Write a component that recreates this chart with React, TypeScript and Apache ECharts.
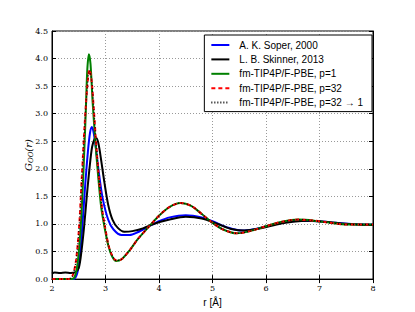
import React, { useEffect, useRef } from "react";
import * as echarts from "echarts";

const seriesNames = [
  "A. K. Soper, 2000",
  "L. B. Skinner, 2013",
  "fm-TIP4P/F-PBE, p=1",
  "fm-TIP4P/F-PBE, p=32",
  "fm-TIP4P/F-PBE, p=32 \u2192 1",
];

const soperR = [2.0, 2.4, 2.47, 2.52, 2.57, 2.62, 2.67, 2.71, 2.745, 2.78, 2.83, 2.88, 2.95, 3.05, 3.15, 3.3, 3.45, 3.6, 3.8, 4.0, 4.2, 4.5, 4.8, 5.0, 5.3, 5.55, 5.8, 6.1, 6.4, 6.7, 7.0, 7.3, 7.6, 8.0];
const soperG = [0, 0, 0.1, 0.4, 1.0, 1.7, 2.3, 2.65, 2.76, 2.65, 2.3, 1.9, 1.45, 1.08, 0.9, 0.8, 0.8, 0.85, 0.95, 1.05, 1.12, 1.16, 1.12, 1.05, 0.93, 0.88, 0.91, 0.98, 1.04, 1.06, 1.05, 1.02, 1.0, 0.99];

const skinnerR = [2.0, 2.05, 2.15, 2.25, 2.35, 2.43, 2.5, 2.55, 2.6, 2.65, 2.7, 2.75, 2.8, 2.83, 2.87, 2.92, 2.98, 3.05, 3.13, 3.23, 3.35, 3.5, 3.7, 3.9, 4.2, 4.5, 4.8, 5.1, 5.35, 5.6, 5.9, 6.2, 6.5, 6.8, 7.1, 7.4, 7.7, 8.0];
const skinnerG = [0.1, 0.12, 0.11, 0.12, 0.11, 0.12, 0.2, 0.5, 0.95, 1.5, 2.0, 2.4, 2.55, 2.56, 2.45, 2.15, 1.75, 1.35, 1.08, 0.93, 0.86, 0.87, 0.92, 1.0, 1.08, 1.13, 1.1, 1.0, 0.91, 0.88, 0.92, 0.99, 1.04, 1.06, 1.04, 1.01, 0.99, 0.98];

const p1R = [2.0, 2.35, 2.42, 2.48, 2.54, 2.59, 2.63, 2.66, 2.69, 2.72, 2.76, 2.81, 2.86, 2.92, 2.98, 3.05, 3.12, 3.2, 3.3, 3.45, 3.6, 3.8, 4.0, 4.2, 4.4, 4.6, 4.8, 5.0, 5.2, 5.45, 5.7, 6.0, 6.3, 6.6, 6.9, 7.2, 7.5, 8.0];
const p1G = [0, 0, 0.03, 0.3, 1.0, 2.0, 3.0, 3.8, 4.08, 3.9, 3.2, 2.5, 1.9, 1.3, 0.95, 0.62, 0.42, 0.33, 0.36, 0.52, 0.72, 0.94, 1.15, 1.31, 1.38, 1.33, 1.18, 1.02, 0.9, 0.83, 0.87, 0.96, 1.04, 1.08, 1.06, 1.02, 0.99, 0.99];

const p32R = [2.0, 2.3, 2.38, 2.45, 2.51, 2.56, 2.61, 2.66, 2.7, 2.74, 2.78, 2.83, 2.88, 2.94, 3.0, 3.06, 3.13, 3.2, 3.3, 3.45, 3.6, 3.8, 4.0, 4.2, 4.4, 4.6, 4.8, 5.0, 5.2, 5.45, 5.7, 6.0, 6.3, 6.6, 6.9, 7.2, 7.5, 8.0];
const p32G = [0, 0, 0.05, 0.35, 1.0, 1.9, 2.8, 3.5, 3.8, 3.6, 3.1, 2.4, 1.8, 1.25, 0.9, 0.6, 0.42, 0.34, 0.36, 0.52, 0.72, 0.94, 1.15, 1.31, 1.38, 1.33, 1.18, 1.02, 0.9, 0.83, 0.87, 0.96, 1.04, 1.08, 1.06, 1.02, 0.99, 0.99];

const p32to1R = [2.0, 2.3, 2.38, 2.45, 2.51, 2.56, 2.61, 2.66, 2.7, 2.74, 2.78, 2.83, 2.88, 2.94, 3.0, 3.06, 3.13, 3.2, 3.3, 3.45, 3.6, 3.8, 4.0, 4.2, 4.4, 4.6, 4.8, 5.0, 5.2, 5.45, 5.7, 6.0, 6.3, 6.6, 6.9, 7.2, 7.5, 8.0];
const p32to1G = [0, 0, 0.05, 0.34, 0.98, 1.88, 2.78, 3.48, 3.78, 3.6, 3.1, 2.4, 1.8, 1.25, 0.9, 0.6, 0.42, 0.34, 0.36, 0.52, 0.72, 0.94, 1.15, 1.31, 1.38, 1.33, 1.18, 1.02, 0.9, 0.83, 0.87, 0.96, 1.04, 1.08, 1.06, 1.02, 0.99, 0.99];

const zip = (r: number[], g: number[]) => r.map((v, i) => [v, g[i]]);

export default function App() {
  const ref = useRef<HTMLDivElement>(null);
  useEffect(() => {
    if (!ref.current) return;
    document.body.style.margin = "0";
    const chart = echarts.init(ref.current, null, { renderer: "svg" });
    const tickFont = { fontFamily: "DejaVu Serif", fontSize: 8, color: "#000" };
    const grid = { lineStyle: { color: "#999", type: [1, 2], width: 1 } };
    const mk = (name: string, data: number[][], color: string, width: number, type: any, z: number) => ({
      name,
      type: "line",
      data,
      smooth: 0.3,
      symbol: "none",
      z,
      lineStyle: { color, width, type },
      itemStyle: { color },
    });
    chart.setOption({
      animation: false,
      backgroundColor: "#fff",
      grid: { left: 52, right: 42, top: 31, bottom: 31, show: true, borderColor: "#000", borderWidth: 1 },
      legend: {
        orient: "vertical",
        right: 43,
        top: 35,
        backgroundColor: "#fff",
        borderColor: "#000",
        borderWidth: 1,
        padding: [5, 9, 4, 6],
        itemWidth: 18,
        itemHeight: 10,
        itemGap: 4.4,
        itemStyle: { opacity: 0 },
        lineStyle: { width: 2 },
        textStyle: { fontFamily: "Liberation Sans", fontSize: 10, lineHeight: 10, color: "#000", padding: [0, 0, 0, 5] },
        data: seriesNames,
      },
      xAxis: [
        {
          type: "value",
          min: 2,
          max: 8,
          interval: 1,
          name: "r [\u00c5]",
          nameLocation: "middle",
          nameGap: 17,
          nameTextStyle: { fontFamily: "Liberation Sans", fontSize: 10, color: "#000" },
          axisLine: { show: true, lineStyle: { color: "#000" } },
          axisTick: { inside: true, length: 4, lineStyle: { color: "#000" } },
          axisLabel: { ...tickFont, margin: 5, formatter: (v: number) => String(v) },
          splitLine: { show: true, ...grid },
        },
        {
          type: "value",
          position: "top",
          min: 2,
          max: 8,
          interval: 1,
          axisLine: { show: true, lineStyle: { color: "#000" } },
          axisTick: { inside: true, length: 4, lineStyle: { color: "#000" } },
          axisLabel: { show: false },
          splitLine: { show: false },
        },
      ],
      yAxis: [
        {
          type: "value",
          min: 0,
          max: 4.5,
          interval: 0.5,
          name: "{g|G}{s|OO}{g|(r)}",
          nameLocation: "middle",
          nameGap: 18,
          nameMoveOverlap: false,
          nameTextStyle: {
            rich: {
              g: { fontFamily: "DejaVu Serif", fontStyle: "italic", fontSize: 10, color: "#000" },
              s: { fontFamily: "DejaVu Serif", fontStyle: "italic", fontSize: 7, color: "#000", padding: [5, 0, 0, 0] },
            },
          },
          axisLine: { show: true, lineStyle: { color: "#000" } },
          axisTick: { inside: true, length: 4, lineStyle: { color: "#000" } },
          axisLabel: { ...tickFont, margin: 4, formatter: (v: number) => v.toFixed(1) },
          splitLine: { show: true, ...grid },
        },
        {
          type: "value",
          position: "right",
          min: 0,
          max: 4.5,
          interval: 0.5,
          axisLine: { show: true, lineStyle: { color: "#000" } },
          axisTick: { inside: true, length: 4, lineStyle: { color: "#000" } },
          axisLabel: { show: false },
          splitLine: { show: false },
        },
      ],
      series: [
        mk(seriesNames[0], zip(soperR, soperG), "#0000ff", 2, "solid", 2),
        mk(seriesNames[1], zip(skinnerR, skinnerG), "#000000", 2, "solid", 3),
        mk(seriesNames[2], zip(p1R, p1G), "#008000", 2, "solid", 4),
        mk(seriesNames[3], zip(p32R, p32G), "#ff0000", 2, [4, 3], 5),
        mk(seriesNames[4], zip(p32to1R, p32to1G), "#000000", 1.3, [1, 2], 6),
      ],
    });
    return () => chart.dispose();
  }, []);
  return <div ref={ref} style={{ width: 415, height: 312 }} />;
}
